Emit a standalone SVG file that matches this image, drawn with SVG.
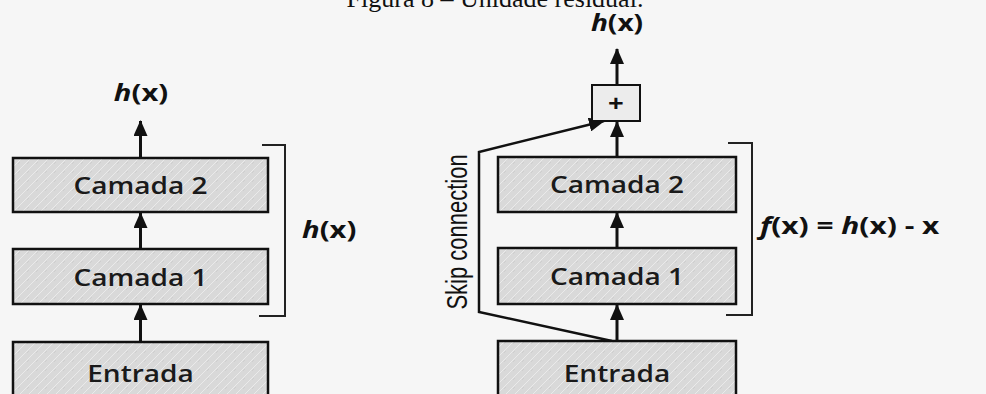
<svg xmlns="http://www.w3.org/2000/svg" width="986" height="394" viewBox="0 0 986 394">
  <style>
    .box { stroke: #111; stroke-width: 2.5; fill: url(#grain); }
    .plus { stroke: #111; stroke-width: 2; fill: #ececec; }
    .lbl { font-family: "Open Sans", "DejaVu Sans", sans-serif; font-size: 23px; font-weight: 600; fill: #1a1a1a; text-anchor: middle; }
    .math { font-family: "Open Sans", "Liberation Sans", sans-serif; font-size: 23px; font-weight: 700; fill: #111; }
    .it { font-style: italic; }
    .edge { stroke: #111; stroke-width: 3; fill: none; marker-end: url(#head); }
    .skip { stroke: #111; stroke-width: 2.5; fill: none; stroke-linejoin: miter; marker-end: url(#head); }
    .brace { stroke: #222; stroke-width: 2; fill: none; }
  </style>
  <defs>
    <marker id="head" viewBox="0 0 16 14" refX="15" refY="7" markerWidth="16" markerHeight="14" markerUnits="userSpaceOnUse" orient="auto">
      <path d="M0,0 L16,7 L0,14 Z" fill="#111"/>
    </marker>
    <pattern id="grain" width="9" height="9" patternUnits="userSpaceOnUse">
      <rect width="9" height="9" fill="#d9d9d9"/>
      <path d="M0,9 L9,0" stroke="#eaeaea" stroke-width="1"/>
      <path d="M-2,4 L4,-2" stroke="#c6c6c6" stroke-width="0.6"/>
    </pattern>
  </defs>

  <rect width="986" height="394" fill="#f6f6f6"/>

  <!-- caption; its upper half runs off the top edge -->
  <g id="caption">
    <text x="495" y="7" font-family="Liberation Serif, serif" font-size="26" fill="#111" text-anchor="middle">Figura 8 – Unidade residual.</text>
  </g>

  <!-- connectors -->
  <g id="connectors">
    <!-- plain stack -->
    <line class="edge" x1="140.5" y1="342" x2="140.5" y2="305"/>
    <line class="edge" x1="140.5" y1="249" x2="140.5" y2="213"/>
    <line class="edge" x1="140.5" y1="158" x2="140.5" y2="121"/>
    <!-- residual stack -->
    <line class="edge" x1="617" y1="341" x2="617" y2="305"/>
    <line class="edge" x1="617" y1="248" x2="617" y2="213"/>
    <line class="edge" x1="617" y1="157" x2="617" y2="122"/>
    <line class="edge" x1="617" y1="85" x2="617" y2="49"/>
    <!-- skip connection -->
    <path class="skip" d="M612,341 L479,312 L479,152 L604,121"/>
    <!-- brackets -->
    <path class="brace" d="M262,145 H285 V316 H259"/>
    <path class="brace" d="M728,143 H752 V315 H726"/>
  </g>

  <!-- plain stack -->
  <g id="left-entrada">
    <rect class="box" x="13" y="342" width="255" height="60"/>
    <text class="lbl" transform="translate(140.5,382) scale(1.22,1)">Entrada</text>
  </g>
  <g id="left-camada1">
    <rect class="box" x="13" y="249" width="255" height="55"/>
    <text class="lbl" transform="translate(140.5,286) scale(1.22,1)">Camada 1</text>
  </g>
  <g id="left-camada2">
    <rect class="box" x="13" y="158" width="255" height="54"/>
    <text class="lbl" transform="translate(140.5,194) scale(1.22,1)">Camada 2</text>
  </g>
  <g id="left-out">
    <text class="math" text-anchor="middle" transform="translate(141,101) scale(1.27,1)"><tspan class="it">h</tspan>(x)</text>
  </g>
  <g id="left-h">
    <text class="math" transform="translate(302,238) scale(1.27,1)"><tspan class="it">h</tspan>(x)</text>
  </g>

  <!-- residual stack -->
  <g id="right-entrada">
    <rect class="box" x="498" y="341" width="238" height="60"/>
    <text class="lbl" transform="translate(617,382) scale(1.22,1)">Entrada</text>
  </g>
  <g id="right-camada1">
    <rect class="box" x="498" y="248" width="238" height="56"/>
    <text class="lbl" transform="translate(617,285) scale(1.22,1)">Camada 1</text>
  </g>
  <g id="right-camada2">
    <rect class="box" x="498" y="157" width="238" height="55"/>
    <text class="lbl" transform="translate(617,193) scale(1.22,1)">Camada 2</text>
  </g>
  <g id="right-sum">
    <rect class="plus" x="592" y="85" width="48" height="36"/>
    <text class="math" text-anchor="middle" font-size="28" transform="translate(616,112) scale(1.2,1)">+</text>
  </g>
  <g id="right-out">
    <text class="math" text-anchor="middle" transform="translate(617,31) scale(1.22,1)"><tspan class="it">h</tspan>(x)</text>
  </g>
  <g id="right-f">
    <text class="math" transform="translate(760,234) scale(1.3,1)"><tspan class="it">f</tspan>(x) = <tspan class="it">h</tspan>(x) - x</text>
  </g>
  <g id="skip-label">
    <text font-family="Liberation Sans, Arial, sans-serif" font-size="22" fill="#111" text-anchor="middle" transform="translate(467,232) scale(1.3,1) rotate(-90)">Skip connection</text>
  </g>
</svg>
